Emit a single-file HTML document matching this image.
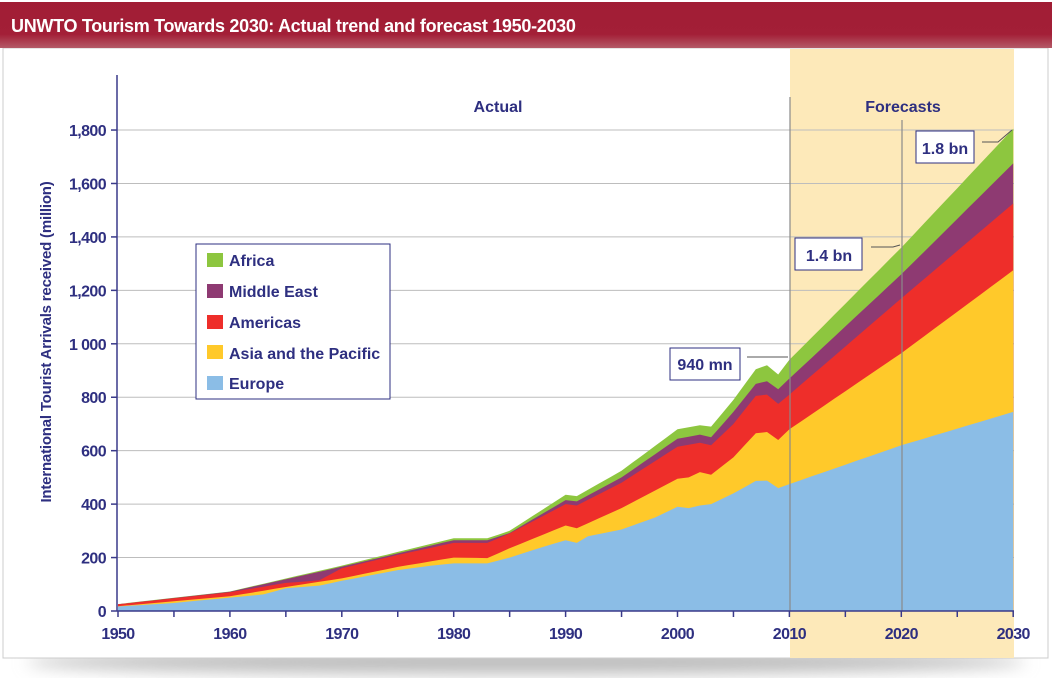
<!DOCTYPE html>
<html><head><meta charset="utf-8"><style>
body{margin:0;background:#fff;width:1052px;height:685px;overflow:hidden;font-family:"Liberation Sans",sans-serif}
</style></head><body>
<svg width="1052" height="685" viewBox="0 0 1052 685" xmlns="http://www.w3.org/2000/svg" font-family="Liberation Sans, sans-serif">
<defs>
<linearGradient id="hd" x1="0" y1="0" x2="0" y2="1"><stop offset="0" stop-color="#a11d35"/><stop offset="0.7" stop-color="#a31f37"/><stop offset="1" stop-color="#b45a68"/></linearGradient>
<filter id="sh" x="-5%" y="-5%" width="110%" height="120%"><feGaussianBlur stdDeviation="8"/></filter>
</defs>
<ellipse cx="526" cy="662" rx="500" ry="12" fill="#bbb" filter="url(#sh)"/>
<rect x="3" y="48" width="1045" height="610" fill="#fff" stroke="#ccc" stroke-width="1"/>
<rect x="0" y="2" width="1052" height="46" fill="url(#hd)"/>
<text x="11" y="32" fill="#fff" font-size="18" font-weight="bold" letter-spacing="-0.3">UNWTO Tourism Towards 2030: Actual trend and forecast 1950-2030</text>
<rect x="790" y="49" width="224" height="609" fill="#fde9b9"/>
<g id="grid" stroke="#bdbdbd" stroke-width="1"></g>
<g id="areas"></g>
<line x1="790" y1="97" x2="790" y2="611" stroke="#8a8a8a" stroke-width="1.2"/>
<line x1="902" y1="120" x2="902" y2="611" stroke="#8a8a8a" stroke-width="1.2"/>
<line x1="117" y1="75" x2="117" y2="611" stroke="#3a3a8a" stroke-width="1.5"/>
<line x1="117" y1="611" x2="1014" y2="611" stroke="#3a3a8a" stroke-width="1.5"/>
<g id="ticks" fill="#2e2f80" font-weight="bold" font-size="16" letter-spacing="-0.6"></g>
<text x="498" y="112" fill="#2e2f80" font-weight="bold" font-size="16" text-anchor="middle">Actual</text>
<text x="903" y="112" fill="#2e2f80" font-weight="bold" font-size="16" text-anchor="middle">Forecasts</text>
<text transform="translate(51,342) rotate(-90)" fill="#2e2f80" font-weight="bold" font-size="15" text-anchor="middle" letter-spacing="-0.2">International Tourist Arrivals received (million)</text>
<rect x="196" y="244" width="194" height="155" fill="#fff" stroke="#2e2f80" stroke-width="1"/>
<g font-size="16" font-weight="bold" fill="#2e2f80">
<rect x="207" y="253" width="16" height="14" fill="#8dc63f"/><text x="229" y="266">Africa</text>
<rect x="207" y="284" width="16" height="14" fill="#8e3a72"/><text x="229" y="297">Middle East</text>
<rect x="207" y="315" width="16" height="14" fill="#ee2e2a"/><text x="229" y="328">Americas</text>
<rect x="207" y="345" width="16" height="14" fill="#ffc92a"/><text x="229" y="359">Asia and the Pacific</text>
<rect x="207" y="376" width="16" height="14" fill="#8bbde6"/><text x="229" y="389">Europe</text>
</g>
<g stroke="#2e2f80" stroke-width="1" fill="#fff">
<rect x="670" y="348" width="70" height="32"/><rect x="795" y="238" width="67" height="32"/><rect x="916" y="131" width="58" height="32"/>
</g>
<g stroke="#555" stroke-width="1" fill="none"><path d="M747 357H788"/><path d="M871 247H893L900 245"/><path d="M982 142H998L1012 130"/></g>
<g font-size="16" font-weight="bold" fill="#2e2f80" text-anchor="middle">
<text x="705" y="370">940 mn</text><text x="829" y="261">1.4 bn</text><text x="945" y="154">1.8 bn</text>
</g>
</svg>
<script>
var X=y=>118+(y-1950)*11.19, Y=v=>611-v*0.2672;
function interp(pts,yr){for(var i=0;i<pts.length-1;i++){if(yr>=pts[i][0]&&yr<=pts[i+1][0]){var a=pts[i],b=pts[i+1];return a[1]+(b[1]-a[1])*(yr-a[0])/(b[0]-a[0]);}}return pts[pts.length-1][1];}
var S={
eu:[[1950,17],[1955,30],[1960,50],[1963,62],[1965,85],[1968,95],[1970,113],[1975,153],[1978,170],[1980,178],[1983,178],[1985,200],[1988,240],[1990,265],[1991,255],[1992,280],[1995,305],[1998,350],[2000,390],[2001,385],[2002,395],[2003,400],[2005,440],[2007,487],[2008,488],[2009,460],[2010,475],[2020,620],[2030,745]],
as:[[1950,18],[1960,55],[1965,90],[1970,122],[1975,165],[1980,200],[1983,198],[1985,235],[1990,320],[1991,310],[1995,385],[2000,495],[2001,500],[2002,520],[2003,510],[2005,575],[2007,665],[2008,670],[2009,640],[2010,680],[2020,965],[2030,1275]],
am:[[1950,25],[1960,70],[1965,105],[1968,115],[1970,160],[1975,210],[1980,255],[1983,255],[1985,290],[1990,400],[1991,395],[1995,480],[2000,615],[2002,630],[2003,620],[2005,700],[2007,805],[2008,810],[2009,775],[2010,810],[2020,1170],[2030,1525]],
me:[[1950,25],[1960,72],[1970,166],[1980,265],[1983,265],[1985,292],[1990,415],[1991,410],[1995,500],[2000,645],[2002,660],[2003,650],[2005,745],[2007,850],[2008,860],[2009,830],[2010,870],[2020,1260],[2030,1675]],
af:[[1950,26],[1960,73],[1970,170],[1980,272],[1983,272],[1985,300],[1990,435],[1991,430],[1995,525],[2000,680],[2002,695],[2003,690],[2005,790],[2007,905],[2008,920],[2009,885],[2010,940],[2020,1360],[2030,1805]]};
var yrs=[];for(var y=1950;y<=2030;y++)yrs.push(y);
var order=[['af','#8dc63f'],['me','#8e3a72'],['am','#ee2e2a'],['as','#ffc92a'],['eu','#8bbde6']];
var ns='http://www.w3.org/2000/svg',g=document.getElementById('areas');
order.forEach(function(o){var d='M'+X(1950)+' 611';yrs.forEach(function(y){d+=' L'+X(y).toFixed(1)+' '+Y(interp(S[o[0]],y)).toFixed(1)});d+=' L'+X(2030)+' 611Z';var p=document.createElementNS(ns,'path');p.setAttribute('d',d);p.setAttribute('fill',o[1]);g.appendChild(p);});
var gr=document.getElementById('grid'),tk=document.getElementById('ticks');
for(var v=200;v<=1800;v+=200){var l=document.createElementNS(ns,'line');l.setAttribute('x1',117);l.setAttribute('x2',1014);l.setAttribute('y1',Y(v));l.setAttribute('y2',Y(v));gr.appendChild(l);}
for(var v=0;v<=1800;v+=200){var t=document.createElementNS(ns,'text');t.setAttribute('x',106);t.setAttribute('y',Y(v)+6);t.setAttribute('text-anchor','end');t.textContent=v==0?'0':v==1000?'1 000':(v>=1000?Math.floor(v/1000)+','+String(v%1000).padStart(3,'0'):v);tk.appendChild(t);
var l=document.createElementNS(ns,'line');l.setAttribute('x1',111);l.setAttribute('x2',117);l.setAttribute('y1',Y(v));l.setAttribute('y2',Y(v));l.setAttribute('stroke','#3a3a8a');l.setAttribute('stroke-width','1.5');tk.appendChild(l);}
for(var y=1950;y<=2030;y+=5){var l=document.createElementNS(ns,'line');l.setAttribute('x1',X(y));l.setAttribute('x2',X(y));l.setAttribute('y1',611);l.setAttribute('y2',617);l.setAttribute('stroke','#3a3a8a');l.setAttribute('stroke-width','1.5');tk.appendChild(l);
if(y%10==0){var t=document.createElementNS(ns,'text');t.setAttribute('x',X(y));t.setAttribute('y',639);t.setAttribute('text-anchor','middle');t.textContent=y;tk.appendChild(t);}}
</script>
</body></html>
